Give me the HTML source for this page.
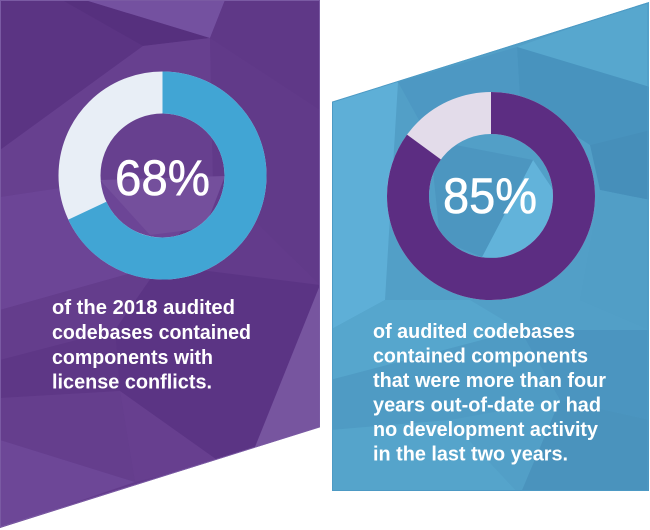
<!DOCTYPE html>
<html>
<head>
<meta charset="utf-8">
<style>
  html, body { margin: 0; padding: 0; background: #ffffff; }
  body { width: 650px; height: 530px; overflow: hidden; }
  svg { display: block; }
  .pct { font-family: "Liberation Sans", "DejaVu Sans", sans-serif; font-size: 50px; fill: #ffffff; stroke: #ffffff; stroke-width: 0.6px; }
  .body { font-family: "Liberation Sans", "DejaVu Sans", sans-serif; font-size: 20px; font-weight: bold; fill: #ffffff; }
</style>
</head>
<body>
<svg width="650" height="530" viewBox="0 0 650 530" xmlns="http://www.w3.org/2000/svg">
  <defs>
    <clipPath id="lp"><polygon points="0,0 320,0 320,427 0,528"/></clipPath>
    <clipPath id="rp"><polygon points="332,102 649,2 649,491 332,491"/></clipPath>
  </defs>

  <!-- LEFT PANEL -->
  <g clip-path="url(#lp)">
    <rect x="0" y="0" width="320" height="530" fill="#633b8b"/>
    <polygon points="0,0 62,0 143,46 0,150" fill="#5b3483"/>
    <polygon points="62,0 85,0 210,38 143,46" fill="#56307e"/>
    <polygon points="85,0 225,0 210,38" fill="#7451a0"/>
    <polygon points="225,0 320,0 320,110 210,38" fill="#5f3887"/>
    <polygon points="0,150 143,46 210,38 213,180 100,182 0,197" fill="#67408f"/>
    <polygon points="210,38 320,110 320,285 213,180" fill="#613a89"/>
    <polygon points="0,197 100,182 213,180 160,265 0,310" fill="#6c4596"/>
    <polygon points="100,180 225,176 205,228 150,235" fill="#744f9c"/>
    <polygon points="0,310 160,265 115,330 0,360" fill="#643d8c"/>
    <polygon points="160,265 320,285 253,452 220,462 120,391 115,330" fill="#5b3484"/>
    <polygon points="320,285 320,427 253,452" fill="#77559f"/>
    <polygon points="0,360 115,330 120,391 0,398" fill="#5e3786"/>
    <polygon points="0,398 120,391 135,482 0,440" fill="#653e8d"/>
    <polygon points="120,391 220,462 135,482" fill="#673f8f"/>
    <polygon points="0,440 135,482 0,528" fill="#6d4797"/>
  </g>
  <polygon points="0.5,0.5 319.5,0.5 319.5,427 0.5,527" fill="none" stroke="#7a5aa3" stroke-width="1"/>

  <!-- Left donut -->
  <circle cx="162.5" cy="175.5" r="83" fill="none" stroke="#e8eef6" stroke-width="42"/>
  <circle cx="162.5" cy="175.5" r="83" fill="none" stroke="#41a5d4" stroke-width="42"
          stroke-dasharray="354.6 600" transform="rotate(-90 162.5 175.5)"/>
  <text class="pct" x="115" y="195" textLength="95" lengthAdjust="spacingAndGlyphs">68%</text>

  <text class="body" x="52" y="314" textLength="183" lengthAdjust="spacingAndGlyphs">of the 2018 audited</text>
  <text class="body" x="52" y="339" textLength="199" lengthAdjust="spacingAndGlyphs">codebases contained</text>
  <text class="body" x="52" y="364" textLength="161" lengthAdjust="spacingAndGlyphs">components with</text>
  <text class="body" x="52" y="388.5" textLength="160" lengthAdjust="spacingAndGlyphs">license conflicts.</text>

  <!-- RIGHT PANEL -->
  <g clip-path="url(#rp)">
    <rect x="330" y="0" width="320" height="495" fill="#529fc7"/>
    <polygon points="330,100 398,82 385,300 330,330" fill="#5eafd7"/>
    <polygon points="398,82 517,47 520,100 430,140" fill="#4d98c3"/>
    <polygon points="517,47 650,0 650,87" fill="#57a7ce"/>
    <polygon points="517,47 650,87 650,130 590,145 520,100" fill="#4893be"/>
    <polygon points="590,145 650,130 650,200 600,190" fill="#468fba"/>
    <polygon points="600,190 650,200 650,330 580,300" fill="#519ec6"/>
    <polygon points="533,160 560,200 530,258 482,257" fill="#62b3da"/>
    <polygon points="430,140 533,160 482,257 440,240" fill="#4c96c0"/>
    <polygon points="330,330 385,300 470,300 520,330 330,380" fill="#56a6cd"/>
    <polygon points="520,330 650,330 650,420 560,400" fill="#4b95c0"/>
    <polygon points="330,380 520,330 560,400 450,420 330,430" fill="#4f9bc4"/>
    <polygon points="560,400 650,420 650,495 520,495" fill="#4a93bd"/>
    <polygon points="330,430 450,420 520,495 330,495" fill="#55a4cb"/>
  </g>
  <polygon points="332.5,102 648,3 648,490.5 332.5,490.5" fill="none" stroke="#4d9ac4" stroke-width="1"/>

  <!-- Right donut -->
  <circle cx="491" cy="196" r="83" fill="none" stroke="#e3dcea" stroke-width="42"/>
  <circle cx="491" cy="196" r="83" fill="none" stroke="#5c2d82" stroke-width="42"
          stroke-dasharray="443.3 600" transform="rotate(-90 491 196)"/>
  <text class="pct" x="443" y="213" textLength="94" lengthAdjust="spacingAndGlyphs">85%</text>

  <text class="body" x="373" y="338" textLength="202" lengthAdjust="spacingAndGlyphs">of audited codebases</text>
  <text class="body" x="373" y="362.5" textLength="215" lengthAdjust="spacingAndGlyphs">contained components</text>
  <text class="body" x="373" y="387" textLength="233" lengthAdjust="spacingAndGlyphs">that were more than four</text>
  <text class="body" x="373" y="411.5" textLength="228" lengthAdjust="spacingAndGlyphs">years out-of-date or had</text>
  <text class="body" x="373" y="436" textLength="225" lengthAdjust="spacingAndGlyphs">no development activity</text>
  <text class="body" x="373" y="460.5" textLength="195" lengthAdjust="spacingAndGlyphs">in the last two years.</text>
</svg>
</body>
</html>
